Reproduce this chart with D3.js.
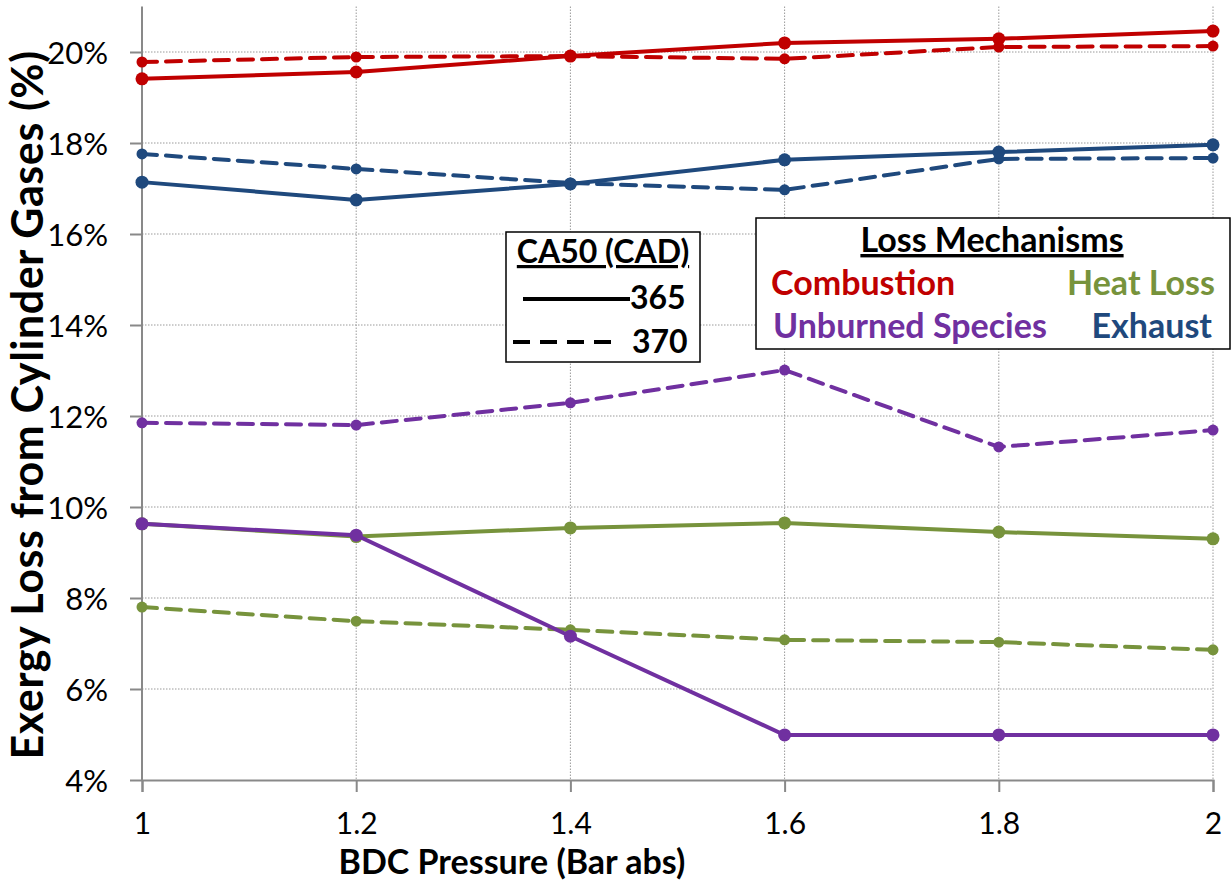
<!DOCTYPE html>
<html><head><meta charset="utf-8">
<script src="https://cdn.jsdelivr.net/npm/d3@7"></script>
<style>body{margin:0;background:#fff;} svg{display:block;font-family:Lato,"Open Sans",sans-serif;}</style>
</head><body>
<svg id="chart" width="1231" height="880"></svg>
<script>
const pressures = [1, 1.2, 1.4, 1.6, 1.8, 2];
const yTicks = [4, 6, 8, 10, 12, 14, 16, 18, 20];
const combustion365 = [19.41, 19.56, 19.91, 20.20, 20.29, 20.46];
const combustion370 = [19.78, 19.89, 19.91, 19.85, 20.11, 20.13];
const exhaust365 = [17.14, 16.75, 17.10, 17.63, 17.80, 17.96];
const exhaust370 = [17.76, 17.43, 17.12, 16.97, 17.65, 17.67];
const unburned365 = [9.63, 9.38, 7.16, 4.99, 4.99, 4.99];
const unburned370 = [11.85, 11.80, 12.29, 13.01, 11.32, 11.69];
const heat365 = [9.63, 9.35, 9.54, 9.65, 9.45, 9.30];
const heat370 = [7.80, 7.49, 7.30, 7.08, 7.03, 6.86];

const colors = {comb:"#C00000", exh:"#1F497D", unb:"#7030A0", heat:"#77933C"};
const series = [
  {v:heat370, c:colors.heat, dash:true},
  {v:unburned370, c:colors.unb, dash:true},
  {v:exhaust370, c:colors.exh, dash:true},
  {v:combustion370, c:colors.comb, dash:true},
  {v:heat365, c:colors.heat, dash:false},
  {v:unburned365, c:colors.unb, dash:false},
  {v:exhaust365, c:colors.exh, dash:false},
  {v:combustion365, c:colors.comb, dash:false}
];

const svg = d3.select("#chart");
const x = d3.scaleLinear().domain([1, 2]).range([142, 1213]);
const y = d3.scaleLinear().domain([4, 21]).range([780, 6.5]);

// gridlines
const grid = svg.append("g");
grid.selectAll(".gy").data(yTicks.filter(t=>t>4)).enter().append("line")
  .attr("x1", x(1)).attr("x2", x(2)).attr("y1", d=>y(d)).attr("y2", d=>y(d))
  .attr("stroke","#9a9a9a").attr("stroke-width",1).attr("stroke-dasharray","1.5,1.5");
grid.selectAll(".gx").data(pressures.filter(p=>p>1)).enter().append("line")
  .attr("x1", d=>x(d)).attr("x2", d=>x(d)).attr("y1", y(21)).attr("y2", y(4))
  .attr("stroke","#9a9a9a").attr("stroke-width",1).attr("stroke-dasharray","1.5,1.5");

// axes
const yAxis = svg.append("g").attr("transform",`translate(${x(1)},0)`)
  .call(d3.axisLeft(y).tickValues(yTicks).tickSize(12).tickFormat(d=>d+"%"));
const xAxis = svg.append("g").attr("transform",`translate(0,${y(4)})`)
  .call(d3.axisBottom(x).tickValues(pressures).tickSize(12).tickFormat(d=>d));
[yAxis,xAxis].forEach(a=>{
  a.select(".domain").attr("stroke","#898989").attr("stroke-width",2);
  a.selectAll(".tick line").attr("stroke","#898989").attr("stroke-width",2);
  a.selectAll("text").attr("fill","#000").style("font-size","31px").style("font-family","Lato, sans-serif");
});
yAxis.select(".domain").attr("d",`M0,${y(21)}V${y(4)}`);
yAxis.selectAll(".tick text").attr("x",-34).attr("dy","0.36em");
xAxis.selectAll(".tick text").style("font-size","30px").attr("y",54).attr("dy",null);

// lines
const line = d3.line().x((d,i)=>x(pressures[i])).y(d=>y(d));
series.forEach(s=>{
  svg.append("path").datum(s.v).attr("d",line).attr("fill","none")
    .attr("stroke",s.c).attr("stroke-width", 4)
    .attr("stroke-dasharray", s.dash?"15,9":null).attr("stroke-linecap", s.dash?"round":"butt");
  svg.append("g").selectAll("circle").data(s.v).enter().append("circle")
    .attr("cx",(d,i)=>x(pressures[i])).attr("cy",d=>y(d)).attr("r", s.dash?5.5:6.5).attr("fill",s.c);
});

// axis titles
svg.append("text").attr("x",512).attr("y",874).attr("text-anchor","middle")
  .style("font-size","34px").style("font-weight","bold").text("BDC Pressure (Bar abs)");
svg.append("text").attr("transform","translate(43,405) rotate(-90)").attr("text-anchor","middle")
  .style("font-size","43px").style("font-weight","bold").style("letter-spacing","0.6px")
  .text("Exergy Loss from Cylinder Gases (%)");

// legend 1
const l1 = svg.append("g");
l1.append("rect").attr("x",506).attr("y",232).attr("width",194).attr("height",130)
  .attr("fill","#fff").attr("stroke","#000").attr("stroke-width",1.5);
l1.append("text").attr("x",603).attr("y",263).attr("text-anchor","middle")
  .style("font-size","32px").style("font-weight","bold").style("text-decoration","underline").text("CA50 (CAD)");
l1.append("line").attr("x1",523).attr("x2",630).attr("y1",299).attr("y2",299).attr("stroke","#000").attr("stroke-width",4);
l1.append("text").attr("x",630).attr("y",309).style("font-size","32px").style("font-weight","bold").text("365");
l1.append("line").attr("x1",513).attr("x2",615).attr("y1",342).attr("y2",342).attr("stroke","#000").attr("stroke-width",4).attr("stroke-dasharray","17,10");
l1.append("text").attr("x",632).attr("y",353).style("font-size","32px").style("font-weight","bold").text("370");

// legend 2
const l2 = svg.append("g");
l2.append("rect").attr("x",756).attr("y",218).attr("width",474).attr("height",131)
  .attr("fill","#fff").attr("stroke","#000").attr("stroke-width",1.5);
l2.append("text").attr("x",992).attr("y",252).attr("text-anchor","middle")
  .style("font-size","34px").style("font-weight","bold").style("text-decoration","underline").text("Loss Mechanisms");
const lt = (t,xx,yy,c,anchor)=>l2.append("text").attr("x",xx).attr("y",yy).attr("text-anchor",anchor)
  .attr("fill",c).style("font-size","34px").style("font-weight","bold").text(t);
lt("Combustion",771,295,colors.comb,"start");
lt("Heat Loss",1215,295,colors.heat,"end");
lt("Unburned Species",773,338,colors.unb,"start");
lt("Exhaust",1212,338,colors.exh,"end");
</script>
</body></html>
